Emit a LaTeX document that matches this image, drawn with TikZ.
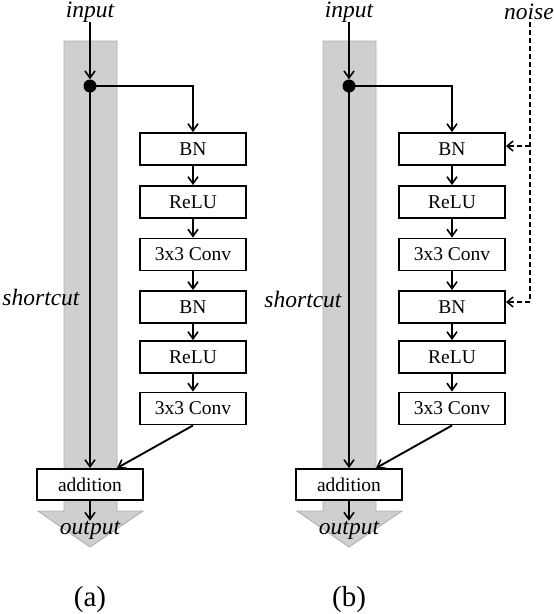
\documentclass[tikz,border=0pt]{standalone}
\usepackage{fontspec}
\setmainfont{Liberation Serif}
\usetikzlibrary{arrows.meta,calc}
\definecolor{colgray}{RGB}{208,206,208}
\definecolor{coledge}{RGB}{175,175,175}
\tikzset{
  blk/.style={draw=black,line width=1.9pt,fill=white,minimum width=106pt,minimum height=32pt,inner sep=0pt,font=\fontsize{19.5}{19.5}\selectfont},
  lbl/.style={inner sep=0pt,font=\fontsize{23.5}{23.5}\selectfont\itshape},
  conn/.style={line width=1.9pt,-{Straight Barb[length=7pt,width=10pt,line width=1.6pt]}},
  noisel/.style={line width=1.6pt,dash pattern=on 5pt off 3pt},
  noisea/.style={line width=1.6pt,dash pattern=on 5pt off 3pt,-{Straight Barb[length=6pt,width=10pt,line width=1.5pt]}},
  col/.style={fill=colgray,draw=coledge,line width=0.9pt},
  captxt/.style={inner sep=0pt,font=\fontsize{29}{29}\selectfont}
}
\begin{document}
\begin{tikzpicture}[x=1pt,y=-1pt]
\useasboundingbox (0,0) rectangle (554,614);
% ---------- panel (a)
\begin{scope}
\draw[col] (64,41) -- (117,41) -- (117,511) -- (143,511) -- (90,547) -- (38,511) -- (64,511) -- cycle;
\node[lbl] (ina) at (90,12) {input};
\node[circle,fill=black,inner sep=0pt,minimum size=13pt] (dota) at (90,86) {};
\node[blk] (bn1a) at (193,149) {BN};
\node[blk] (re1a) at (193,202) {ReLU};
\node[blk] (cv1a) at (193,254.5) {3x3 Conv};
\node[blk] (bn2a) at (193,307) {BN};
\node[blk] (re2a) at (193,357) {ReLU};
\node[blk] (cv2a) at (193,408.5) {3x3 Conv};
\node[blk,minimum height=31pt] (adda) at (90,484.5) {addition};
\node[lbl] (outa) at (90,530) {output};
\node[lbl] (sca) at (41,297) {shortcut};
\node[captxt] (capa) at (90,600) {(a)};
\draw[conn] (ina.south) -- (dota.north);
\draw[conn] (dota.center) -| (bn1a.north);
\draw[conn] (bn1a) -- (re1a);
\draw[conn] (re1a) -- (cv1a);
\draw[conn] (cv1a) -- (bn2a);
\draw[conn] (bn2a) -- (re2a);
\draw[conn] (re2a) -- (cv2a);
\draw[conn] (dota.center) -- (adda.north);
\draw[conn] (cv2a.south) -- ($(adda.north)+(27,0)$);
\draw[conn] (adda.south) -- (outa.north);
\end{scope}
% ---------- panel (b)
\begin{scope}[xshift=259pt]
\draw[col] (64,41) -- (117,41) -- (117,511) -- (143,511) -- (90,547) -- (38,511) -- (64,511) -- cycle;
\node[lbl] (inb) at (90,12) {input};
\node[circle,fill=black,inner sep=0pt,minimum size=13pt] (dotb) at (90,86) {};
\node[blk] (bn1b) at (193,149) {BN};
\node[blk] (re1b) at (193,202) {ReLU};
\node[blk] (cv1b) at (193,254.5) {3x3 Conv};
\node[blk] (bn2b) at (193,307) {BN};
\node[blk] (re2b) at (193,357) {ReLU};
\node[blk] (cv2b) at (193,408.5) {3x3 Conv};
\node[blk,minimum height=31pt] (addb) at (90,484.5) {addition};
\node[lbl] (outb) at (90,530) {output};
\node[lbl] (scb) at (44,299) {shortcut};
\node[captxt] (capb) at (90,600) {(b)};
\node[lbl] (noise) at (270,12) {noise};
\coordinate (n1) at (271,146);
\coordinate (n2) at (271,302);
\draw[conn] (inb.south) -- (dotb.north);
\draw[conn] (dotb.center) -| (bn1b.north);
\draw[conn] (bn1b) -- (re1b);
\draw[conn] (re1b) -- (cv1b);
\draw[conn] (cv1b) -- (bn2b);
\draw[conn] (bn2b) -- (re2b);
\draw[conn] (re2b) -- (cv2b);
\draw[conn] (dotb.center) -- (addb.north);
\draw[conn] (cv2b.south) -- ($(addb.north)+(27,0)$);
\draw[conn] (addb.south) -- (outb.north);
\draw[noisel] (noise.south -| n1) ++(0,2) -- (n2);
\draw[noisea] (n1) -- (bn1b.east |- n1);
\draw[noisea] (n2) -- (bn2b.east |- n2);
\end{scope}
\end{tikzpicture}
\end{document}
